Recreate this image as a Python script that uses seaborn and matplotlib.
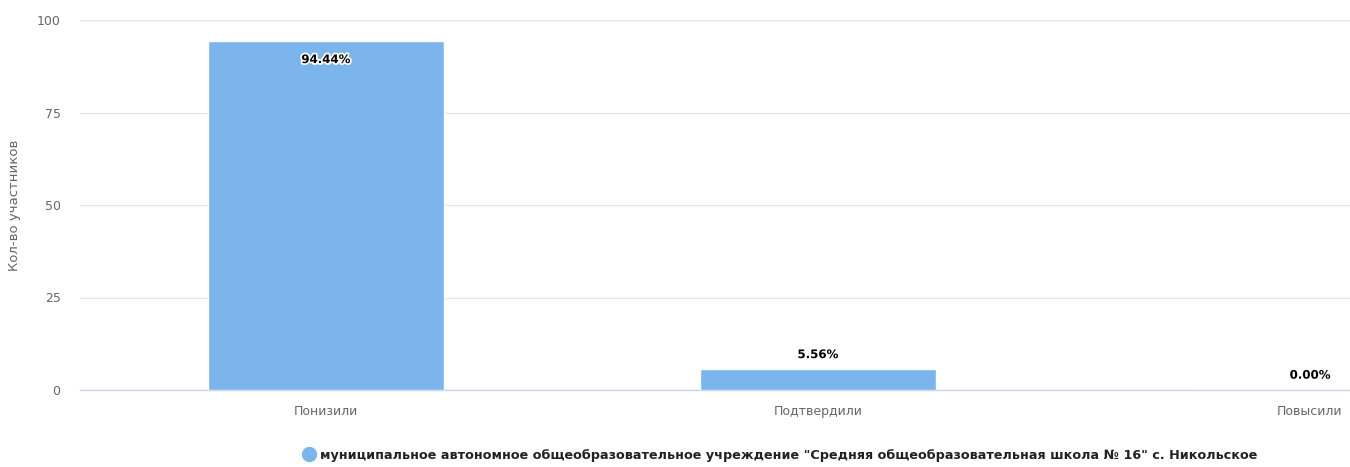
import matplotlib
matplotlib.use("Agg")
import matplotlib.pyplot as plt
import matplotlib.patheffects as pe
from matplotlib.lines import Line2D
import seaborn as sns
import pandas as pd

# данные
categories = ["Понизили", "Подтвердили", "Повысили"]
values = [94.44, 5.56, 0.00]
value_labels = ["94.44%", "5.56%", "0.00%"]
series_name = 'муниципальное автономное общеобразовательное учреждение "Средняя общеобразовательная школа № 16" с. Никольское'

df = pd.DataFrame({"category": categories, "value": values})

sns.set_style("white")
plt.rcParams['font.family'] = ['DejaVu Sans']

fig = plt.figure(figsize=(13.5, 4.67), dpi=100)
ax = fig.add_axes([80 / 1350, 1 - 390 / 467, 1 - 80 / 1350, 370 / 467])

sns.barplot(data=df, x="category", y="value", color="#7cb5ec", width=0.48,
            saturation=1, ax=ax, zorder=3)

ax.set_xlim(-0.5, 2 + 40 / 492)
ax.set_ylim(0, 100)
ax.set_yticks([0, 25, 50, 75, 100])
ax.yaxis.grid(True, color="#e6e6e6", linewidth=1, zorder=0)
ax.set_axisbelow(True)

for s in ["top", "right", "left"]:
    ax.spines[s].set_visible(False)
ax.spines["bottom"].set_color("#ccd6eb")
ax.spines["bottom"].set_linewidth(1)

ax.tick_params(axis="both", length=0, labelsize=9, labelcolor="#666666")
ax.tick_params(axis="y", pad=14)
ax.tick_params(axis="x", pad=11)
ax.set_xlabel("")
ax.set_ylabel("Кол-во участников", fontsize=9.5, color="#666666")
ax.yaxis.set_label_coords(-0.0465, 0.5)

# подписи значений
outline = [pe.withStroke(linewidth=2.5, foreground="white")]
for i, (v, lab) in enumerate(zip(values, value_labels)):
    if v > 50:
        ax.annotate(lab, (i, v), xytext=(0, -9), textcoords="offset points",
                    ha="center", va="top", fontsize=8.5, fontweight="bold",
                    color="black", path_effects=outline, zorder=5)
    else:
        ax.annotate(lab, (i, v), xytext=(0, 6), textcoords="offset points",
                    ha="center", va="bottom", fontsize=8.5, fontweight="bold",
                    color="black", path_effects=outline, zorder=5)

# легенда
handle = Line2D([], [], marker="o", linestyle="", markersize=10,
                markerfacecolor="#7cb5ec", markeredgecolor="#7cb5ec")
fig.legend([handle], [series_name], loc="center", bbox_to_anchor=(780 / 1350, 1 - 455 / 467),
           frameon=False, handletextpad=0.3, handlelength=1.0,
           prop={"size": 9.2, "weight": "bold"}, labelcolor="#222222")

fig.savefig("out.png", dpi=100)
